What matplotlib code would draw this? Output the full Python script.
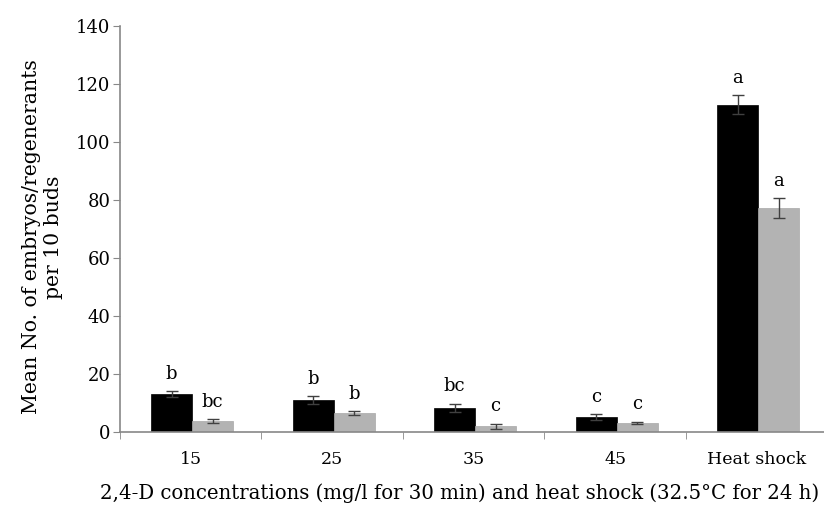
import numpy as np
import matplotlib.pyplot as plt
from matplotlib.ticker import FixedLocator

# values
categories = ["15", "25", "35", "45", "Heat shock"]
embryos = [13.1, 11.0, 8.4, 5.2, 112.8]
embryos_err = [1.0, 1.3, 1.4, 1.0, 3.3]
regenerants = [3.8, 6.6, 1.9, 3.1, 77.2]
regenerants_err = [0.7, 0.6, 1.0, 0.5, 3.5]
embryos_letters = ["b", "b", "bc", "c", "a"]
regenerants_letters = ["bc", "b", "c", "c", "a"]

plt.rcParams["font.family"] = "DejaVu Serif"

fig = plt.figure(figsize=(8.24, 5.07), dpi=100)
ax = fig.add_axes([0.1456, 0.148, 0.8586, 0.8008])

x = np.arange(len(categories))
w = 0.29
ax.bar(x - w / 2 + 0.01, embryos, w, color="black", edgecolor="black", linewidth=0.5)
ax.bar(x + w / 2 + 0.01, regenerants, w, color="#b3b3b3", edgecolor="#a8a8a8", linewidth=0.5)
ax.errorbar(x - w / 2 + 0.01, embryos, yerr=embryos_err, fmt="none",
            ecolor="#404040", elinewidth=1, capsize=4, capthick=1)
ax.errorbar(x + w / 2 + 0.01, regenerants, yerr=regenerants_err, fmt="none",
            ecolor="#404040", elinewidth=1, capsize=4, capthick=1)

# significance letters
for i in range(len(categories)):
    ax.text(x[i] - w / 2 + 0.01, embryos[i] + embryos_err[i] + 2.8, embryos_letters[i],
            ha="center", va="bottom", fontsize=13)
    ax.text(x[i] + w / 2 + 0.01, regenerants[i] + regenerants_err[i] + 2.8, regenerants_letters[i],
            ha="center", va="bottom", fontsize=13)

ax.set_xlim(-0.5, 4.5)
ax.set_ylim(0, 140)
ax.set_yticks(range(0, 141, 20))
ax.set_xticks(x)
ax.set_xticklabels(categories, fontsize=12.5)
ax.xaxis.set_minor_locator(FixedLocator(np.arange(-0.5, 4.6, 1)))
ax.tick_params(axis="x", which="major", length=0, pad=14)
ax.tick_params(axis="x", which="minor", length=5, color="#888888", direction="out")
ax.tick_params(axis="y", length=5, color="#888888", direction="out", labelsize=13, pad=2)

for side in ["top", "right"]:
    ax.spines[side].set_visible(False)
ax.spines["left"].set_color("#888888")
ax.spines["bottom"].set_color("#888888")
ax.spines["left"].set_linewidth(1.2)
ax.spines["bottom"].set_linewidth(1.2)

ax.set_ylabel("Mean No. of embryos/regenerants\nper 10 buds", fontsize=14.7, linespacing=1.25)
ax.yaxis.set_label_coords(-0.08, 0.48)
fig.text(0.1214, 0.008, "2,4-D concentrations (mg/l for 30 min) and heat shock (32.5°C for 24 h)",
         fontsize=14.2, ha="left", va="bottom")

fig.savefig("out.png", dpi=100)
